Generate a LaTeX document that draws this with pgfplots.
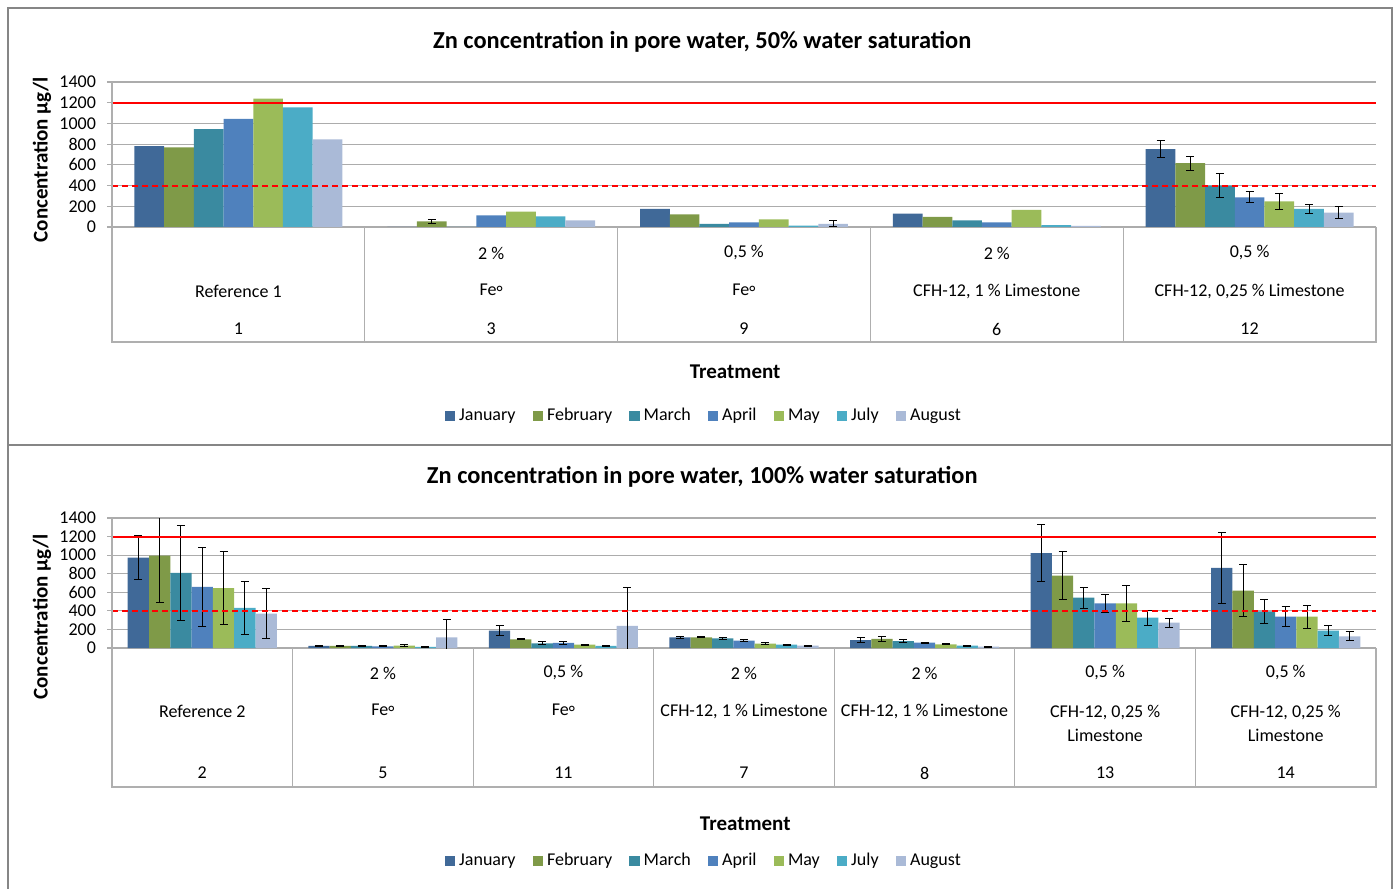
\documentclass[border=0pt]{standalone}
\usepackage{fontspec}
\setmainfont{Carlito}
\usepackage{pgfplots}
\usepackage{pgfplotstable}
\pgfplotsset{compat=1.18}
\definecolor{cjan}{RGB}{64,105,152}
\definecolor{cfeb}{RGB}{127,154,72}
\definecolor{cmar}{RGB}{58,138,160}
\definecolor{capr}{RGB}{79,129,189}
\definecolor{cmay}{RGB}{155,187,89}
\definecolor{cjul}{RGB}{75,172,198}
\definecolor{caug}{RGB}{170,186,215}
\definecolor{gridgray}{RGB}{172,172,172}
\definecolor{tabgray}{RGB}{175,175,175}
\definecolor{framegray}{RGB}{134,134,134}
\newcommand{\tf}{\fontsize{9}{12}\selectfont}
\newcommand{\feo}{Fe\raisebox{-0.35ex}{°}}
\pgfplotsset{
  sqlegend/.style={legend image code/.code={\fill[##1] (0pt,-2.6pt) rectangle (5.2pt,2.6pt);}},
  zcommon/.style={
    anchor=south west, scale only axis, width=632pt,
    ymin=0, ymax=1400, ytick={0,200,...,1400}, xtick=\empty,
    ybar=0pt,
    clip mode=individual,
    axis line style={draw=none},
    ymajorgrids, major grid style={gridgray, line width=0.6pt},
    ytick pos=left, tick align=outside, major tick length=2.5pt,
    ytick style={draw=gridgray, line width=0.6pt},
    /pgf/number format/assume math mode=true,
    /pgf/number format/1000 sep={},
    yticklabel style={font=\fontsize{9}{10}\selectfont, xshift=-2pt},
    title style={anchor=center, yshift=-6pt, font=\bfseries\fontsize{12.2}{14}\selectfont},
    xlabel style={anchor=center, font=\bfseries\fontsize{10.5}{12}\selectfont},
    ylabel style={anchor=center, font=\bfseries\fontsize{10.5}{12}\selectfont},
    legend columns=7,
    legend style={anchor=center, draw=none, fill=none, font=\fontsize{9}{10}\selectfont,
      /tikz/every even column/.append style={column sep=6.5pt}},
  }
}
% #1 colour, #2 column, #3 bar shift, #4 data table, #5 error table
\newcommand{\series}[5]{%
  \addplot[fill=#1, draw=none, bar shift=#3, sqlegend] table[x=x, y=#2] {#4};
  \addplot[draw=none, fill=none, bar shift=#3, forget plot,
    error bars/.cd, y dir=both, y explicit,
    error bar style={draw=black, line width=0.5pt},
    error mark options={draw=black, line width=0.5pt, mark size=2pt, rotate=90}]
    table[x=x, y=#2, y error=e#2] {#5};
}
\pgfplotstableread{
x jan feb mar apr may jul aug
0 781 768 945 1045 1239 1155 845
1 0 55 0 113 148 103 65
2 174 123 29 45 74 13 30
3 129 97 65 45 165 19 10
4 752 616 400 287 248 174 139
}\topdata
\pgfplotstableread{
x jan feb mar apr may jul aug ejan efeb emar eapr emay ejul eaug
1 nan 55 nan nan nan nan nan 0 18 0 0 0 0 0
2 nan nan nan nan nan nan 30 0 0 0 0 0 0 28
4 752 616 400 287 248 174 139 84 68 115 55 77 42 55
}\toperr
\pgfplotstableread{
x jan feb mar apr may jul aug ejan efeb emar eapr emay ejul eaug
0 973 994 808 657 646 431 370 235 500 510 425 395 285 268
1 22 22 22 18 25 11 115 8 8 10 5 12 4 190
2 187 93 50 54 36 22 237 57 6 15 18 6 4 410
3 115 115 104 79 47 36 25 12 5 10 10 8 5 4
4 86 97 75 57 39 25 14 30 25 20 6 6 5 4
5 1023 779 542 481 481 327 273 310 255 113 100 195 80 50
6 862 617 395 337 337 187 126 380 280 130 110 125 57 50
}\botdata
\begin{document}
\begin{tikzpicture}[x=1pt,y=1pt]
\useasboundingbox (0,0) rectangle (696.5,444.5);
\draw[framegray, line width=0.8pt] (4,0) -- (4,440.5) -- (696,440.5) -- (696,0);
\draw[framegray, line width=0.8pt] (4,222) -- (696,222);

% ---------- top chart ----------
\begin{axis}[zcommon, at={(56pt,331pt)}, height=72.5pt, xmin=-0.5, xmax=4.5,
  bar width=14.85pt,
  title={Zn concentration in pore water, 50\% water saturation},
  title style={at={(axis description cs:0.467,1.276)}},
  xlabel={Treatment}, xlabel style={at={(axis description cs:0.493,-1.0)}},
  ylabel={Concentration µg/l}, ylabel style={at={(axis description cs:-0.0554,0.462)}},
  legend style={at={(axis description cs:0.469,-1.303)}},
]
\series{cjan}{jan}{-44.55pt}{\topdata}{\toperr}
\series{cfeb}{feb}{-29.7pt}{\topdata}{\toperr}
\series{cmar}{mar}{-14.85pt}{\topdata}{\toperr}
\series{capr}{apr}{0pt}{\topdata}{\toperr}
\series{cmay}{may}{14.85pt}{\topdata}{\toperr}
\series{cjul}{jul}{29.7pt}{\topdata}{\toperr}
\series{caug}{aug}{44.55pt}{\topdata}{\toperr}
\addplot[sharp plot, red, line width=1pt, forget plot] coordinates {(-0.5,1200) (4.5,1200)};
\addplot[sharp plot, red, line width=1pt, dash pattern=on 3pt off 2pt, forget plot] coordinates {(-0.5,400) (4.5,400)};
\legend{January,February,March,April,May,July,August}
% table
\draw[tabgray, line width=0.6pt] (axis cs:-0.5,1400) -- ([yshift=-57.5pt]axis cs:-0.5,0) -- ([yshift=-57.5pt]axis cs:4.5,0) -- (axis cs:4.5,0);
\draw[tabgray, line width=0.6pt] (axis cs:0.5,0) -- ([yshift=-57.5pt]axis cs:0.5,0);
\draw[tabgray, line width=0.6pt] (axis cs:1.5,0) -- ([yshift=-57.5pt]axis cs:1.5,0);
\draw[tabgray, line width=0.6pt] (axis cs:2.5,0) -- ([yshift=-57.5pt]axis cs:2.5,0);
\draw[tabgray, line width=0.6pt] (axis cs:3.5,0) -- ([yshift=-57.5pt]axis cs:3.5,0);
\node[font=\tf] at ([yshift=-32pt]axis cs:0,0) {Reference 1};
\node[font=\tf] at ([yshift=-51pt]axis cs:0,0) {1};
\node[font=\tf] at ([yshift=-13pt]axis cs:1,0) {2 \%};
\node[font=\tf] at ([yshift=-32pt]axis cs:1,0) {\feo};
\node[font=\tf] at ([yshift=-51pt]axis cs:1,0) {3};
\node[font=\tf] at ([yshift=-13pt]axis cs:2,0) {0,5 \%};
\node[font=\tf] at ([yshift=-32pt]axis cs:2,0) {\feo};
\node[font=\tf] at ([yshift=-51pt]axis cs:2,0) {9};
\node[font=\tf] at ([yshift=-13pt]axis cs:3,0) {2 \%};
\node[font=\tf] at ([yshift=-32pt]axis cs:3,0) {CFH-12, 1 \% Limestone};
\node[font=\tf] at ([yshift=-51pt]axis cs:3,0) {6};
\node[font=\tf] at ([yshift=-13pt]axis cs:4,0) {0,5 \%};
\node[font=\tf] at ([yshift=-32pt]axis cs:4,0) {CFH-12, 0,25 \% Limestone};
\node[font=\tf] at ([yshift=-51pt]axis cs:4,0) {12};
\end{axis}

% ---------- bottom chart ----------
\begin{axis}[zcommon, at={(56pt,120.5pt)}, height=65pt, xmin=-0.5, xmax=6.5,
  bar width=10.65pt,
  title={Zn concentration in pore water, 100\% water saturation},
  title style={at={(axis description cs:0.467,1.315)}},
  xlabel={Treatment}, xlabel style={at={(axis description cs:0.501,-1.354)}},
  ylabel={Concentration µg/l}, ylabel style={at={(axis description cs:-0.0554,0.238)}},
  legend style={at={(axis description cs:0.469,-1.638)}},
]
\series{cjan}{jan}{-31.95pt}{\botdata}{\botdata}
\series{cfeb}{feb}{-21.3pt}{\botdata}{\botdata}
\series{cmar}{mar}{-10.65pt}{\botdata}{\botdata}
\series{capr}{apr}{0pt}{\botdata}{\botdata}
\series{cmay}{may}{10.65pt}{\botdata}{\botdata}
\series{cjul}{jul}{21.3pt}{\botdata}{\botdata}
\series{caug}{aug}{31.95pt}{\botdata}{\botdata}
\addplot[sharp plot, red, line width=1pt, forget plot] coordinates {(-0.5,1200) (6.5,1200)};
\addplot[sharp plot, red, line width=1pt, dash pattern=on 3pt off 2pt, forget plot] coordinates {(-0.5,400) (6.5,400)};
\legend{January,February,March,April,May,July,August}
\draw[tabgray, line width=0.6pt] (axis cs:-0.5,1400) -- ([yshift=-69.5pt]axis cs:-0.5,0) -- ([yshift=-69.5pt]axis cs:6.5,0) -- (axis cs:6.5,0);
\draw[tabgray, line width=0.6pt] (axis cs:0.5,0) -- ([yshift=-69.5pt]axis cs:0.5,0);
\draw[tabgray, line width=0.6pt] (axis cs:1.5,0) -- ([yshift=-69.5pt]axis cs:1.5,0);
\draw[tabgray, line width=0.6pt] (axis cs:2.5,0) -- ([yshift=-69.5pt]axis cs:2.5,0);
\draw[tabgray, line width=0.6pt] (axis cs:3.5,0) -- ([yshift=-69.5pt]axis cs:3.5,0);
\draw[tabgray, line width=0.6pt] (axis cs:4.5,0) -- ([yshift=-69.5pt]axis cs:4.5,0);
\draw[tabgray, line width=0.6pt] (axis cs:5.5,0) -- ([yshift=-69.5pt]axis cs:5.5,0);
\node[font=\tf] at ([yshift=-31.5pt]axis cs:0,0) {Reference 2};
\node[font=\tf] at ([yshift=-62.5pt]axis cs:0,0) {2};
\node[font=\tf] at ([yshift=-12.5pt]axis cs:1,0) {2 \%};
\node[font=\tf] at ([yshift=-31.5pt]axis cs:1,0) {\feo};
\node[font=\tf] at ([yshift=-62.5pt]axis cs:1,0) {5};
\node[font=\tf] at ([yshift=-12.5pt]axis cs:2,0) {0,5 \%};
\node[font=\tf] at ([yshift=-31.5pt]axis cs:2,0) {\feo};
\node[font=\tf] at ([yshift=-62.5pt]axis cs:2,0) {11};
\node[font=\tf] at ([yshift=-12.5pt]axis cs:3,0) {2 \%};
\node[font=\tf] at ([yshift=-31.5pt]axis cs:3,0) {CFH-12, 1 \% Limestone};
\node[font=\tf] at ([yshift=-62.5pt]axis cs:3,0) {7};
\node[font=\tf] at ([yshift=-12.5pt]axis cs:4,0) {2 \%};
\node[font=\tf] at ([yshift=-31.5pt]axis cs:4,0) {CFH-12, 1 \% Limestone};
\node[font=\tf] at ([yshift=-62.5pt]axis cs:4,0) {8};
\node[font=\tf] at ([yshift=-12.5pt]axis cs:5,0) {0,5 \%};
\node[font=\tf, align=center] at ([yshift=-37.5pt]axis cs:5,0) {CFH-12, 0,25 \%\\Limestone};
\node[font=\tf] at ([yshift=-62.5pt]axis cs:5,0) {13};
\node[font=\tf] at ([yshift=-12.5pt]axis cs:6,0) {0,5 \%};
\node[font=\tf, align=center] at ([yshift=-37.5pt]axis cs:6,0) {CFH-12, 0,25 \%\\Limestone};
\node[font=\tf] at ([yshift=-62.5pt]axis cs:6,0) {14};
\end{axis}
\end{tikzpicture}
\end{document}
